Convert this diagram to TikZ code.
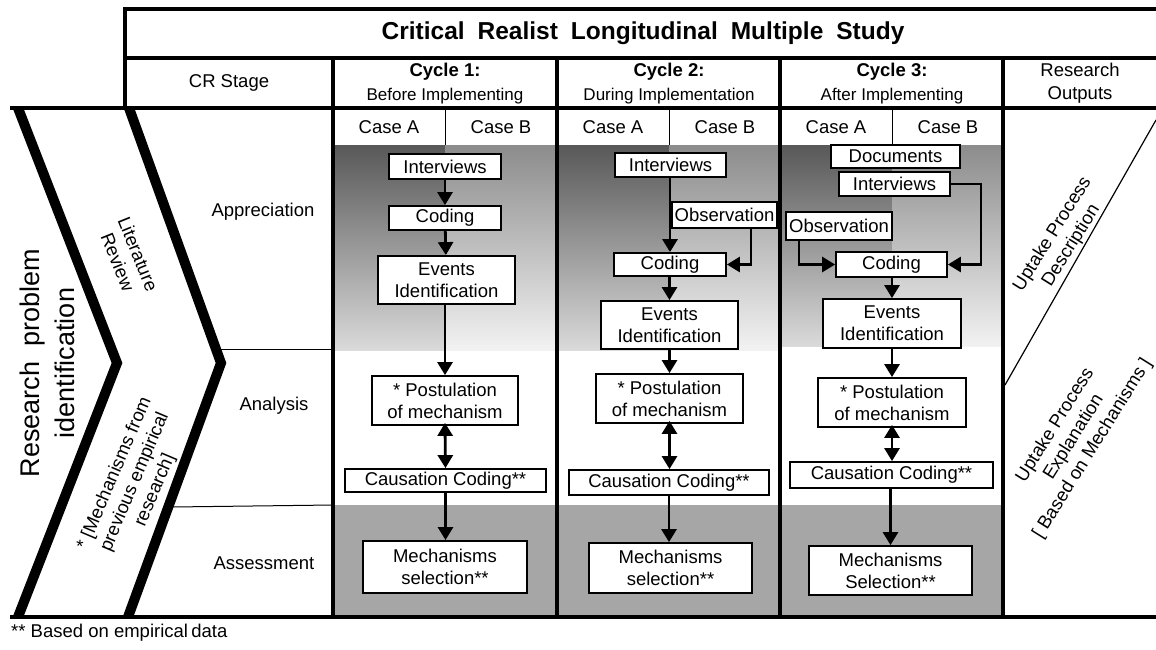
\documentclass[tikz,border=0pt]{standalone}
\usepackage{fontspec}
\setmainfont{Liberation Sans}
\usetikzlibrary{arrows.meta}
\definecolor{gAtop}{RGB}{88,88,88}
\definecolor{gAbot}{RGB}{218,218,218}
\definecolor{gBtop}{RGB}{140,140,140}
\definecolor{gBbot}{RGB}{242,242,242}
\definecolor{assess}{RGB}{166,166,166}
\newcommand{\fsn}{\fontsize{18.5}{22}\selectfont}
\newcommand{\fsub}{\fontsize{17}{20}\selectfont}
\begin{document}
\begin{tikzpicture}[x=1pt,y=-1pt,
  box/.style={draw, line width=1.8pt, fill=white, inner sep=0pt, align=center, font=\fsn},
  lab/.style={inner sep=0pt, align=center, font=\fsn},
  arr/.style={line width=2.8pt, -{Triangle[width=15pt,length=13pt]}},
  darr/.style={line width=2.8pt, {Triangle[width=15pt,length=13pt]}-{Triangle[width=15pt,length=13pt]}, shorten <=-3pt},
  frameline/.style={line width=3.5pt, line join=miter},
  chevline/.style={line width=10pt, line join=miter},
  thinline/.style={line width=1pt}]
\useasboundingbox (0,0) rectangle (1156,650);
% backgrounds
\foreach \xa/\xm/\xb/\yb in {333/445/557/350, 557/669/780/350, 780/892/1003/346}{
  \shade[top color=gAtop, bottom color=gAbot] (\xa,145) rectangle (\xm,\yb);
  \shade[top color=gBtop, bottom color=gBbot] (\xm,145) rectangle (\xb,\yb);
}
\fill[assess] (333,505) rectangle (1003,616);
% frame
\draw[frameline] (125,108) -- (125,9) -- (1156,9);
\draw[frameline] (125,58) -- (1156,58);
\draw[frameline] (10,108) -- (1156,108);
\foreach \x in {333,557,780,1003}{\draw[frameline] (\x,58) -- (\x,617);}
\draw[line width=4pt] (10,617) -- (1156,617);
\foreach \x in {445,669,892}{\draw[thinline] (\x,108) -- (\x,145);}
% chevrons
\draw[chevline] (18,108) -- (117,363) -- (18,617);
\draw[chevline] (129,108) -- (221,363) -- (128,617);
\draw[thinline] (219,349) -- (333,349);
\draw[thinline] (172,507) -- (333,505);
% right diagonal
\draw[line width=1.2pt] (1156,120) -- (1005,385);
% header texts
\node[lab, font=\fontsize{24.5}{27}\selectfont\bfseries] (title) at (643,33) {Critical\hspace{0.25em} Realist\hspace{0.25em} Longitudinal\hspace{0.25em} Multiple\hspace{0.25em} Study};
\node[lab] (crst) at (229,83) {CR Stage};
\node[lab, font=\fsn\bfseries] (cy1) at (445,72) {Cycle 1:};
\node[lab, font=\fsub] (cy1s) at (445,96) {Before Implementing};
\node[lab, font=\fsn\bfseries] (cy2) at (669,72) {Cycle 2:};
\node[lab, font=\fsub] (cy2s) at (669,96) {During Implementation};
\node[lab, font=\fsn\bfseries] (cy3) at (892,72) {Cycle 3:};
\node[lab, font=\fsub] (cy3s) at (892,96) {After Implementing};
\node[lab, font=\fontsize{18.5}{23}\selectfont] (ro) at (1080,83) {Research\\Outputs};
\node[lab] (ca1) at (389,127) {Case A};
\node[lab] (cb1) at (501,127) {Case B};
\node[lab] (ca2) at (613,127) {Case A};
\node[lab] (cb2) at (725,127) {Case B};
\node[lab] (ca3) at (836,127) {Case A};
\node[lab] (cb3) at (948,127) {Case B};
% left labels
\node[lab] (appr) at (263,212) {Appreciation};
\node[lab] (anal) at (274,406) {Analysis};
\node[lab] (asse) at (264,563) {Assessment};
\node[lab, rotate=90, font=\fontsize{27}{35}\selectfont] (rpi) at (47,363) {Research\hspace{0.3em} problem\\identification};
\node[lab, rotate=-68] (litrev) at (128,258) {Literature\\Review};
\node[lab, rotate=67] (mech) at (135,482) {* [Mechanisms from\\previous empirical\\research]};
\node[lab, rotate=58] (upd) at (1062,240) {Uptake Process\\Description};
\node[lab, rotate=58] (upe) at (1074,437) {Uptake Process\\Explanation\\{[} Based on Mechanisms ]};
\node[lab, anchor=west] (foot) at (11,633) {** Based on empirical\hspace{-0.1em} data};
% cycle 1
\node[box, minimum width=112pt, minimum height=25pt] (i1) at (445,166.5) {Interviews};
\node[box, minimum width=112pt, minimum height=24pt] (c1) at (445,218) {Coding};
\node[box, minimum width=137pt, minimum height=48pt] (e1) at (446.5,280) {Events\\Identification};
\node[box, minimum width=146pt, minimum height=49pt] (p1) at (445,400.5) {* Postulation\\of mechanism};
\node[box, minimum width=201pt, minimum height=23pt] (cc1) at (445.5,480.5) {Causation Coding**};
\node[box, minimum width=164pt, minimum height=52pt] (m1) at (445,567) {Mechanisms\\selection**};
\draw[arr] (i1) -- (c1);
\draw[arr] (c1) -- (e1);
\draw[arr] (e1.south -| p1.north) -- (p1.north);
\draw[darr] (p1.south) -- (cc1.north);
\draw[arr] (cc1.south) -- (cc1.south |- m1.north);
% cycle 2
\node[box, minimum width=111pt, minimum height=24pt] (i2) at (670.5,165) {Interviews};
\node[box, minimum width=105pt, minimum height=26pt] (o2) at (724.5,215) {Observation};
\node[box, minimum width=112pt, minimum height=23pt] (c2) at (670,264.5) {Coding};
\node[box, minimum width=137pt, minimum height=48pt] (e2) at (669.5,325) {Events\\Identification};
\node[box, minimum width=147pt, minimum height=49pt] (p2) at (669.5,398.5) {* Postulation\\of mechanism};
\node[box, minimum width=200pt, minimum height=25pt] (cc2) at (669,482.5) {Causation Coding**};
\node[box, minimum width=163pt, minimum height=50pt] (m2) at (670.5,568) {Mechanisms\\selection**};
\draw[arr] (i2.south -| c2.north) -- (c2.north);
\draw[arr] ([xshift=26.5pt]o2.south) |- (c2.east);
\draw[arr] (c2.south -| e2.north) -- (e2.north);
\draw[arr] (e2.south) -- (e2.south |- p2.north);
\draw[darr] (p2.south) -- (p2.south |- cc2.north);
\draw[arr] (cc2.south) -- (cc2.south |- m2.north);
% cycle 3
\node[box, minimum width=129pt, minimum height=23pt] (d3) at (895.5,156.5) {Documents};
\node[box, minimum width=111pt, minimum height=24pt] (i3) at (894.5,184) {Interviews};
\node[box, minimum width=106pt, minimum height=28pt] (o3) at (839,226) {Observation};
\node[box, minimum width=111pt, minimum height=25pt] (c3) at (891.5,264.5) {Coding};
\node[box, minimum width=138pt, minimum height=49pt] (e3) at (892,323.5) {Events\\Identification};
\node[box, minimum width=148pt, minimum height=49pt] (p3) at (892,402.5) {* Postulation\\of mechanism};
\node[box, minimum width=203pt, minimum height=26pt] (cc3) at (891.5,475) {Causation Coding**};
\node[box, minimum width=163pt, minimum height=49pt] (m3) at (890.5,570.5) {Mechanisms\\Selection**};
\draw[arr] (i3.east) -- ++(30,0) |- (c3.east);
\draw[arr] ([xshift=-40pt]o3.south) |- (c3.west);
\draw[arr] (c3.south -| e3.north) -- (e3.north);
\draw[arr] (e3.south) -- (e3.south |- p3.north);
\draw[darr] (p3.south) -- (p3.south |- cc3.north);
\draw[arr] (cc3.south -| m3.north) -- (m3.north);
\end{tikzpicture}
\end{document}
